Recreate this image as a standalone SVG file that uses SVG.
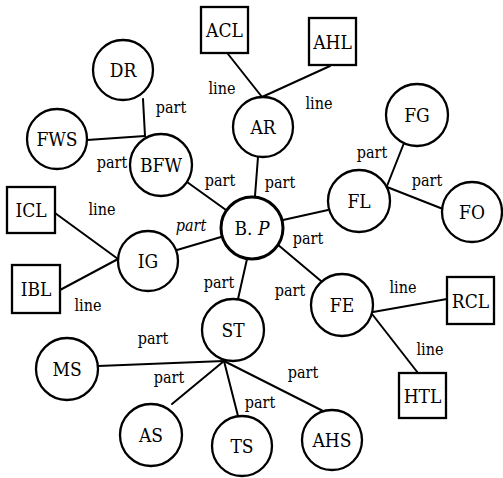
<svg xmlns="http://www.w3.org/2000/svg" width="503" height="478" viewBox="0 0 503 478">
  <style>
    .c { fill: #fff; stroke: #000; stroke-width: 2.3; }
    .hub { stroke-width: 3; }
    .b { fill: #fff; stroke: #000; stroke-width: 2.3; }
    text { text-anchor: middle; dominant-baseline: central; fill: #000; }
    .n { font-size: 19px; }
    .l { font-size: 16px; }
    #edges line { stroke: #000; stroke-width: 2; stroke-linecap: round; }
  </style>
  <rect width="503" height="478" fill="#fff"/>

  <!-- connectors: "part" and "line" relations -->
  <g id="edges">
    <line x1="143" y1="99" x2="145" y2="136"/>
    <line x1="87" y1="140" x2="145" y2="136"/>
    <line x1="187" y1="182" x2="226" y2="210"/>
    <line x1="228" y1="54" x2="262" y2="97"/>
    <line x1="330" y1="66" x2="262" y2="97"/>
    <line x1="258" y1="157" x2="255" y2="196"/>
    <line x1="387" y1="186" x2="404" y2="143"/>
    <line x1="387" y1="187" x2="443" y2="209"/>
    <line x1="283" y1="220" x2="328" y2="210"/>
    <line x1="55" y1="213" x2="118" y2="259"/>
    <line x1="60" y1="290" x2="118" y2="259"/>
    <line x1="177" y1="250" x2="221" y2="237"/>
    <line x1="247" y1="259" x2="238" y2="299"/>
    <line x1="277" y1="244" x2="321" y2="281"/>
    <line x1="373" y1="312" x2="447" y2="299"/>
    <line x1="372" y1="314" x2="418" y2="373"/>
    <line x1="224" y1="361" x2="98" y2="366"/>
    <line x1="224" y1="361" x2="172" y2="404"/>
    <line x1="224" y1="361" x2="238" y2="416"/>
    <line x1="224" y1="361" x2="323" y2="411"/>
  </g>

  <g id="edge-labels" font-family="DejaVu Serif Condensed, DejaVu Serif, serif">
    <text class="l" x="171" y="107">part</text>
    <text class="l" x="222" y="88">line</text>
    <text class="l" x="319" y="103">line</text>
    <text class="l" x="112" y="162">part</text>
    <text class="l" x="220" y="180">part</text>
    <text class="l" x="280" y="182">part</text>
    <text class="l" x="372" y="152">part</text>
    <text class="l" x="427" y="180">part</text>
    <text class="l" x="102" y="209">line</text>
    <text class="l" x="191" y="225" font-style="italic">part</text>
    <text class="l" x="308" y="238">part</text>
    <text class="l" x="219" y="282">part</text>
    <text class="l" x="88" y="305">line</text>
    <text class="l" x="290" y="290">part</text>
    <text class="l" x="403" y="287">line</text>
    <text class="l" x="430" y="349">line</text>
    <text class="l" x="153" y="338">part</text>
    <text class="l" x="169" y="377">part</text>
    <text class="l" x="260" y="402">part</text>
    <text class="l" x="303" y="372">part</text>
  </g>

  <g id="nodes" font-family="DejaVu Serif Condensed, DejaVu Serif, serif">
  <g id="node-DR"><circle class="c" cx="123" cy="70" r="30"/><text class="n" x="123" y="70">DR</text></g>
  <g id="node-FWS"><circle class="c" cx="57" cy="139" r="30"/><text class="n" x="57" y="139">FWS</text></g>
  <g id="node-BFW"><circle class="c" cx="161" cy="165" r="31"/><text class="n" x="161" y="165">BFW</text></g>
  <g id="node-ACL"><rect class="b" x="201" y="7" width="47" height="46"/><text class="n" x="224.5" y="30">ACL</text></g>
  <g id="node-AHL"><rect class="b" x="309" y="18" width="47" height="47"/><text class="n" x="332.5" y="41.5">AHL</text></g>
  <g id="node-AR"><circle class="c" cx="263" cy="127" r="30"/><text class="n" x="263" y="127">AR</text></g>
  <g id="node-FG"><circle class="c" cx="417" cy="115" r="31"/><text class="n" x="417" y="115">FG</text></g>
  <g id="node-FL"><circle class="c" cx="359" cy="201" r="31"/><text class="n" x="359" y="201">FL</text></g>
  <g id="node-FO"><circle class="c" cx="472" cy="212" r="30"/><text class="n" x="472" y="212">FO</text></g>
  <g id="node-BP"><circle class="c hub" cx="252" cy="228" r="31"/><text class="n" x="252" y="228">B. <tspan font-style="italic">P</tspan></text></g>
  <g id="node-ICL"><rect class="b" x="7" y="187" width="48" height="46"/><text class="n" x="31" y="210">ICL</text></g>
  <g id="node-IBL"><rect class="b" x="12" y="265" width="48" height="48"/><text class="n" x="36" y="289">IBL</text></g>
  <g id="node-IG"><circle class="c" cx="148" cy="261" r="30"/><text class="n" x="148" y="261">IG</text></g>
  <g id="node-ST"><circle class="c" cx="233" cy="330" r="31"/><text class="n" x="233" y="330">ST</text></g>
  <g id="node-MS"><circle class="c" cx="67" cy="369" r="31"/><text class="n" x="67" y="369">MS</text></g>
  <g id="node-AS"><circle class="c" cx="151" cy="435" r="31"/><text class="n" x="151" y="435">AS</text></g>
  <g id="node-TS"><circle class="c" cx="242" cy="446" r="30"/><text class="n" x="242" y="446">TS</text></g>
  <g id="node-AHS"><circle class="c" cx="332" cy="440" r="30"/><text class="n" x="332" y="440">AHS</text></g>
  <g id="node-FE"><circle class="c" cx="342" cy="305" r="31"/><text class="n" x="342" y="305">FE</text></g>
  <g id="node-RCL"><rect class="b" x="447" y="277" width="47" height="47"/><text class="n" x="470.5" y="300.5">RCL</text></g>
  <g id="node-HTL"><rect class="b" x="399" y="373" width="47" height="45"/><text class="n" x="422.5" y="395.5">HTL</text></g>
  </g>
</svg>
